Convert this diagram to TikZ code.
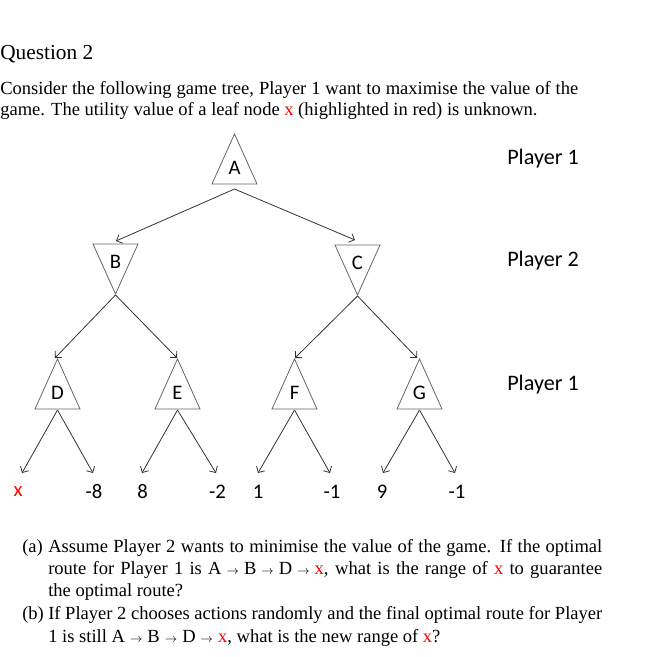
\documentclass[tikz,border=0pt]{standalone}
\usepackage{fontspec}
\setmainfont{Liberation Serif}
\newfontfamily\treefont{Carlito}
\usetikzlibrary{arrows.meta}

\tikzset{
  tri/.style={draw=black!60, line width=0.6pt},
  edge/.style={draw=black!80, line width=0.6pt, -{Straight Barb[length=3.5pt,width=7pt]}},
  lbl/.style={font=\treefont\fontsize{15.5pt}{18pt}\selectfont, inner sep=0pt},
  player/.style={font=\treefont\fontsize{16.6pt}{19pt}\selectfont, inner sep=0pt},
  txt/.style={font=\fontsize{13.9pt}{16pt}\selectfont, anchor=base west, inner sep=0pt},
}
\newcommand{\ar}{\hspace{3.8pt}{\small$\rightarrow$}\hspace{3.8pt}}

\begin{document}
\begin{tikzpicture}[x=0.75pt, y=-0.75pt] % pixel units, y going down
    \useasboundingbox (0,0) rectangle (655,657);

    % Question text
    \node[txt, font=\fontsize{16pt}{19pt}\selectfont] (title) at (0,59) {Question 2};
    \node[txt] (intro1) at (0,94) {\makebox[433.5pt][s]{Consider the following game tree, Player 1 want to maximise the value of the}};
    \node[txt] (intro2) at (0,115) {game. The utility value of a leaf node \textcolor{red}{x} (highlighted in red) is unknown.};

    % Triangles (max nodes point up, min nodes point down)
    \draw[tri] (212,184) -- (234.5,134) -- (257,184) -- cycle; % A
    \draw[tri] (93,244) -- (138,244) -- (115.5,294) -- cycle;  % B
    \draw[tri] (335,245) -- (380,245) -- (357.5,295) -- cycle; % C
    \draw[tri] (35,409) -- (57.5,359) -- (80,409) -- cycle;    % D
    \draw[tri] (155,409) -- (177.5,359) -- (200,409) -- cycle; % E
    \draw[tri] (272,409) -- (294.5,359) -- (317,409) -- cycle; % F
    \draw[tri] (397,409) -- (419.5,359) -- (442,409) -- cycle; % G

    % Node letters
    \node[lbl] (A) at (234.5,168) {A};
    \node[lbl] (B) at (115.5,262) {B};
    \node[lbl] (C) at (357.5,263) {C};
    \node[lbl] (D) at (57.5,393) {D};
    \node[lbl] (E) at (177.5,393) {E};
    \node[lbl] (F) at (294.5,393) {F};
    \node[lbl] (G) at (419.5,393) {G};

    % Entry and exit points of the triangles
    \coordinate (A-out) at (234.5,189);
    \coordinate (B-in) at (116,241);
    \coordinate (B-out) at (115.5,295);
    \coordinate (C-in) at (355,240);
    \coordinate (C-out) at (357.5,296);
    \coordinate (D-in) at (55,358);
    \coordinate (E-in) at (177,358);
    \coordinate (F-in) at (295,358);
    \coordinate (G-in) at (417,358);
    \coordinate (D-out) at (57.5,410);
    \coordinate (E-out) at (177.5,410);
    \coordinate (F-out) at (294.5,410);
    \coordinate (G-out) at (419.5,410);

    % Leaf values
    \node[lbl, text=red] (x) at (18,492) {x};
    \node[lbl] (l2) at (94,492) {-8};
    \node[lbl] (l3) at (142.5,492) {8};
    \node[lbl] (l4) at (217.5,492) {-2};
    \node[lbl] (l5) at (258,492) {1};
    \node[lbl] (l6) at (332,492) {-1};
    \node[lbl] (l7) at (382,492) {9};
    \node[lbl] (l8) at (457,492) {-1};

    % Leaf arrow ends
    \coordinate (x-in) at (22,473);
    \coordinate (l2-in) at (93,473);
    \coordinate (l3-in) at (142,473);
    \coordinate (l4-in) at (216,473);
    \coordinate (l5-in) at (258,473);
    \coordinate (l6-in) at (330,473);
    \coordinate (l7-in) at (383,473);
    \coordinate (l8-in) at (455,473);

    % Edges
    \draw[edge] (A-out) -- (B-in);
    \draw[edge] (A-out) -- (C-in);
    \draw[edge] (B-out) -- (D-in);
    \draw[edge] (B-out) -- (E-in);
    \draw[edge] (C-out) -- (F-in);
    \draw[edge] (C-out) -- (G-in);
    \draw[edge] (D-out) -- (x-in);
    \draw[edge] (D-out) -- (l2-in);
    \draw[edge] (E-out) -- (l3-in);
    \draw[edge] (E-out) -- (l4-in);
    \draw[edge] (F-out) -- (l5-in);
    \draw[edge] (F-out) -- (l6-in);
    \draw[edge] (G-out) -- (l7-in);
    \draw[edge] (G-out) -- (l8-in);

    % Player levels
    \node[player] (p1) at (543,159) {Player 1};
    \node[player] (p2) at (543,261) {Player 2};
    \node[player] (p3) at (543,385) {Player 1};

    % Questions
    \node[txt] (qa) at (22,552) {(a)};
    \node[txt] (qa1) at (48,552) {\makebox[415.5pt][s]{Assume Player 2 wants to minimise the value of the game. If the optimal}};
    \node[txt] (qa2) at (48,574) {\makebox[415.5pt][s]{route for Player 1 is A\ar B\ar D\ar\textcolor{red}{x}, what is the range of \textcolor{red}{x} to guarantee}};
    \node[txt] (qa3) at (48,596) {the optimal route?};
    \node[txt] (qb) at (22,619) {(b)};
    \node[txt] (qb1) at (48,619) {\makebox[415.5pt][s]{If Player 2 chooses actions randomly and the final optimal route for Player}};
    \node[txt] (qb2) at (48,642) {1 is still A\ar B\ar D\ar\textcolor{red}{x}, what is the new range of \textcolor{red}{x}?};
\end{tikzpicture}
\end{document}
